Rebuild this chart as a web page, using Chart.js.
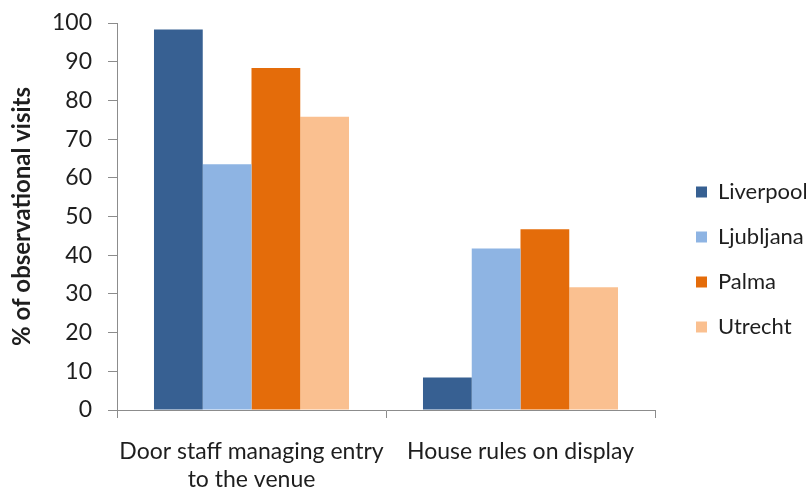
<!DOCTYPE html>
<html>
<head>
<meta charset="utf-8">
<script src="https://cdn.jsdelivr.net/npm/chart.js@4"></script>
<style>
  body { margin: 0; background: #fff; }
  #wrap { width: 810px; height: 487px; position: relative; }
</style>
</head>
<body>
<div id="wrap"><canvas id="chart"></canvas></div>
<script>
// data
const categories = [["Door staff managing entry", "to the venue"], "House rules on display"];
const cities = ["Liverpool", "Ljubljana", "Palma", "Utrecht"];
const liverpool = [98.3, 8.4];
const ljubljana = [63.5, 41.7];
const palma = [88.4, 46.7];
const utrecht = [75.8, 31.7];
const colours = ["#376092", "#8EB4E3", "#E46C0A", "#FAC090"];
const yTicks = [0, 10, 20, 30, 40, 50, 60, 70, 80, 90, 100];

const series = [liverpool, ljubljana, palma, utrecht];
const font = "Lato, 'Open Sans', sans-serif";
const textColour = "#1e1e1e";
const axisGrey = "#8c8c8c";

const context = document.getElementById("chart").getContext("2d");
new Chart(context, {
    type: 'bar',
    data: {
        labels: categories,
        datasets: series.map((values, i) => ({
            label: cities[i],
            data: values,
            backgroundColor: colours[i],
            borderWidth: 0
        }))
    },
    options: {
        responsive: true,
        maintainAspectRatio: false,
        animation: false,
        layout: { padding: { top: 23, right: 4, left: 8, bottom: 0 } },
        datasets: { bar: { categoryPercentage: 0.725, barPercentage: 1 } },
        plugins: {
            legend: {
                position: 'right',
                title: { display: true, text: ' ', padding: 0, font: { size: 7.5 } },
                labels: {
                    boxWidth: 11,
                    boxHeight: 11,
                    padding: 23,
                    color: textColour,
                    font: { family: font, size: 22 }
                }
            },
            tooltip: { enabled: false }
        },
        scales: {
            x: {
                afterFit: axis => { axis.height = 77; },
                grid: {
                    offset: true,
                    drawOnChartArea: false,
                    tickLength: 8,
                    color: axisGrey
                },
                border: { color: axisGrey, width: 1 },
                ticks: {
                    color: textColour,
                    font: { family: font, size: 23 },
                    padding: 20,
                    maxRotation: 0,
                    autoSkip: false
                }
            },
            y: {
                min: 0,
                max: 100,
                afterBuildTicks: axis => { axis.ticks = yTicks.map(v => ({ value: v })); },
                afterFit: axis => {
                    axis.width = 109;
                    axis.paddingTop = 0;
                    axis.paddingBottom = 0;
                },
                grid: {
                    drawOnChartArea: false,
                    tickLength: 9,
                    color: axisGrey
                },
                border: { color: axisGrey, width: 1 },
                ticks: {
                    color: textColour,
                    font: { family: font, size: 23 },
                    padding: 16
                },
                title: {
                    display: true,
                    text: "% of observational visits",
                    color: textColour,
                    font: { family: font, size: 24, weight: 'bold' },
                    padding: { top: 0, bottom: 3 }
                }
            },
            // empty spacer between plot and legend
            gap: {
                position: 'right',
                display: true,
                grid: { display: false },
                border: { display: false },
                ticks: { display: false },
                afterFit: axis => { axis.width = 18; }
            }
        }
    }
});
</script>
</body>
</html>
